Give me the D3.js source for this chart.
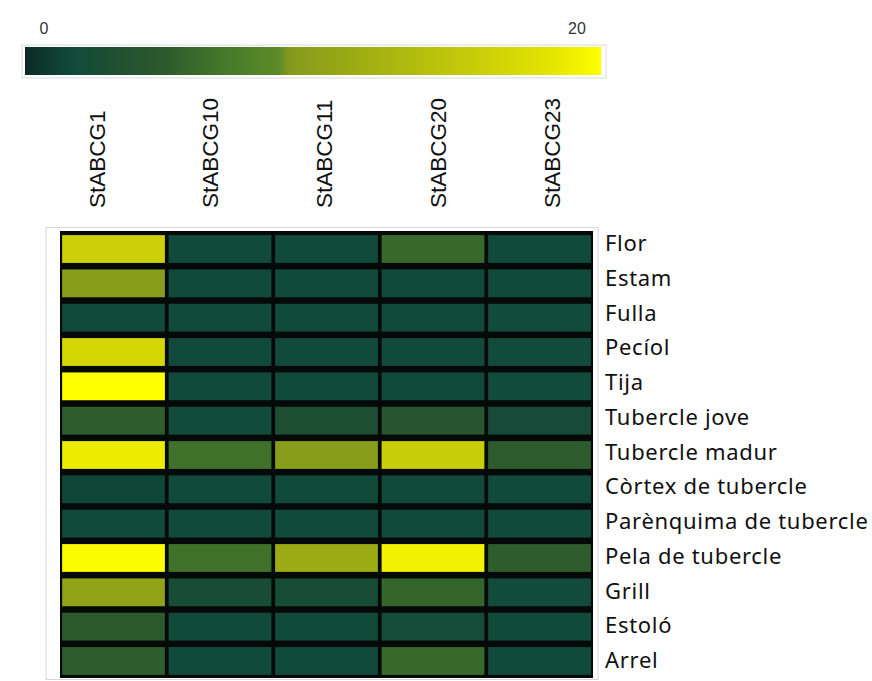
<!DOCTYPE html>
<html>
<head>
<meta charset="utf-8">
<script src="https://cdn.jsdelivr.net/npm/d3@7"></script>
<style>
  html, body { margin: 0; padding: 0; background: #fff; }
  svg { display: block; }
</style>
</head>
<body>
<svg id="chart" width="872" height="681"></svg>
<script>
// Genes (columns) and tissues (rows)
const genes = ["StABCG1", "StABCG10", "StABCG11", "StABCG20", "StABCG23"];
const tissues = ["Flor", "Estam", "Fulla", "Pecíol", "Tija", "Tubercle jove", "Tubercle madur",
  "Còrtex de tubercle", "Parènquima de tubercle", "Pela de tubercle", "Grill", "Estoló", "Arrel"];

// Expression values, one array per gene, in tissue order
const StABCG1  = [16.0, 9.6, 1.6, 16.8, 20.0, 5.0, 18.8, 1.4, 1.6, 19.8, 10.2, 4.6, 5.0];
const StABCG10 = [1.6, 1.6, 1.7, 1.6, 1.7, 1.8, 6.4, 1.6, 1.6, 6.4, 2.4, 1.7, 1.6];
const StABCG11 = [1.6, 1.6, 1.7, 1.6, 1.7, 3.0, 9.6, 1.7, 1.6, 11.4, 2.2, 1.7, 1.6];
const StABCG20 = [5.8, 1.6, 1.7, 1.6, 1.7, 4.0, 15.6, 1.6, 1.6, 19.2, 5.6, 1.9, 5.8];
const StABCG23 = [1.6, 1.7, 1.8, 1.8, 1.8, 2.0, 4.8, 1.6, 1.6, 5.0, 1.8, 1.7, 1.6];
const seriesByGene = { StABCG1, StABCG10, StABCG11, StABCG20, StABCG23 };

// Colour legend
const legendDomain = [0, 20];
const legendTicks = [0, 20];

const cells = [];
genes.forEach(g => tissues.forEach((t, i) => cells.push({ gene: g, tissue: t, value: seriesByGene[g][i] })));

// Dark green -> olive -> yellow ramp
const stopT   = [0.00, 0.08, 0.15, 0.25, 0.35, 0.44, 0.46, 0.60, 0.80, 0.92, 1.00];
const stopCol = ["#0a2a22", "#114a3b", "#1e4e32", "#2f5c2c", "#467a2a", "#5e8a28", "#849a1c", "#a2b012", "#ccd008", "#e6e600", "#ffff00"];
const ramp = d3.scaleLinear().domain(stopT).range(stopCol).interpolate(d3.interpolateRgb).clamp(true);
const norm = d3.scaleLinear().domain(legendDomain).range([0, 1]).clamp(true);
const color = v => ramp(norm(v));

const svg = d3.select("#chart");

// ---- colour bar ----
const defs = svg.append("defs");
const grad = defs.append("linearGradient").attr("id", "cbar").attr("x1", "0%").attr("x2", "100%");
stopT.forEach((t, i) => grad.append("stop").attr("offset", (t * 100) + "%").attr("stop-color", stopCol[i]));

svg.append("rect").attr("x", 22).attr("y", 45).attr("width", 584).attr("height", 33)
  .attr("fill", "#fff").attr("stroke", "#d8dcdc").attr("stroke-width", 1);
svg.append("rect").attr("x", 25).attr("y", 47).attr("width", 576).attr("height", 28)
  .attr("fill", "url(#cbar)");

const legendX = d3.scaleLinear().domain(legendDomain).range([44, 577]);
svg.append("g").selectAll("text").data(legendTicks).join("text")
  .attr("x", d => legendX(d)).attr("y", 34)
  .attr("text-anchor", "middle")
  .attr("font-family", "'Liberation Sans', Arial, sans-serif")
  .attr("font-size", 16).attr("fill", "#333")
  .text(d => d);

// ---- heatmap ----
const x = d3.scaleBand().domain(genes).range([60, 593]).paddingInner(0.035).paddingOuter(0.02);
const y = d3.scaleBand().domain(tissues).range([231, 679]).paddingInner(0.19).paddingOuter(0.12);

svg.append("rect").attr("x", 46).attr("y", 227.5).attr("width", 552).attr("height", 452)
  .attr("fill", "#fff").attr("stroke", "#d6d6d6").attr("stroke-width", 1);
svg.append("rect").attr("x", 60).attr("y", 231).attr("width", 533).attr("height", 447).attr("fill", "#050a08");

svg.append("g").selectAll("rect").data(cells).join("rect")
  .attr("x", d => x(d.gene)).attr("y", d => y(d.tissue))
  .attr("width", x.bandwidth()).attr("height", y.bandwidth())
  .attr("fill", d => color(d.value));

// Column labels, rotated (baseline on the right of each label)
const labelX = d3.scalePoint().domain(genes).range([99.5, 555]);
svg.append("g").selectAll("text").data(genes).join("text")
  .attr("transform", d => `translate(${labelX(d) + 5},208) rotate(-90)`)
  .attr("text-anchor", "start")
  .attr("font-family", "'Liberation Sans', Arial, sans-serif")
  .attr("font-size", 22.5).attr("fill", "#111")
  .text(d => d);

// Row labels
const labelY = d3.scalePoint().domain(tissues).range([251, 668]);
svg.append("g").selectAll("text").data(tissues).join("text")
  .attr("x", 605).attr("y", d => labelY(d))
  .attr("font-family", "'Noto Sans', sans-serif")
  .attr("font-size", 22).attr("letter-spacing", 0.7).attr("fill", "#111")
  .text(d => d);
</script>
</body>
</html>
